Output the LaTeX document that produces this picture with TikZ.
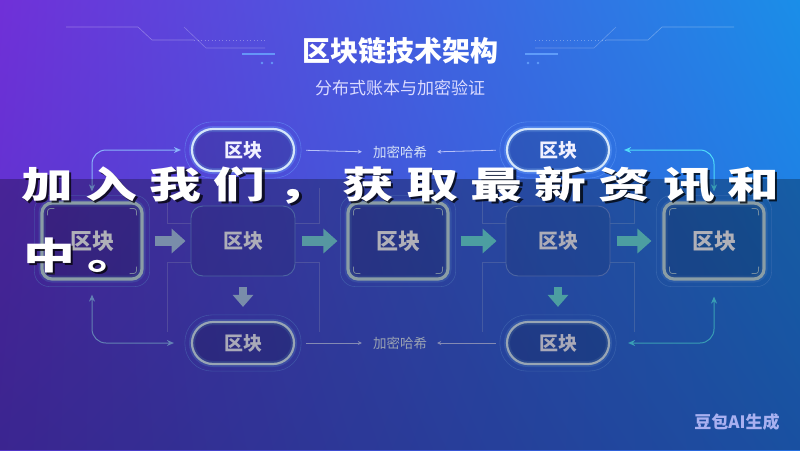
\documentclass[tikz,border=0pt]{standalone}
\usepackage{fontspec}
\newfontfamily\cjk{Noto Sans CJK SC}
\usetikzlibrary{arrows.meta, positioning, calc, shadings}
\definecolor{bgUL}{HTML}{7030D8}
\definecolor{bgUR}{HTML}{1A8EE8}
\definecolor{bgLL}{HTML}{5234C8}
\definecolor{bgLR}{HTML}{2470E0}
\definecolor{pillc}{HTML}{D4E6FA}
\definecolor{glowc}{HTML}{6EA8FF}
\definecolor{hlc}{HTML}{C0DAE6}
\definecolor{plc}{HTML}{6A8CE0}
\definecolor{arrA}{HTML}{A8C4EC}
\definecolor{arrB}{HTML}{78D2E0}
\definecolor{arrC}{HTML}{6ADCE0}
\definecolor{linkL}{HTML}{8AB4FA}
\definecolor{linkR}{HTML}{50DCFA}
\definecolor{hashc}{HTML}{D6E2F8}
\definecolor{decoc}{HTML}{6AA8FF}

\begin{document}
\begin{tikzpicture}[
        x=1pt, y=-1pt,
        pill/.style={draw=pillc, line width=2.2pt, rounded corners=21pt,
            minimum width=102pt, minimum height=42pt,
            fill=black, fill opacity=0.15, text opacity=1, text=white!94!blue,
            font=\cjk\bfseries\fontsize{19}{19}\selectfont,
            preaction={draw=glowc, line width=6pt, draw opacity=0.35}},
        hlbox/.style={draw=hlc, line width=3.2pt, rounded corners=10pt,
            minimum width=100pt, minimum height=76pt,
            fill=black, fill opacity=0.15, text opacity=1, text=white!96!blue,
            font=\cjk\bfseries\fontsize{22}{22}\selectfont,
            preaction={draw=glowc, line width=7pt, draw opacity=0.3}},
        plainbox/.style={draw=plc, line width=0.9pt, rounded corners=12pt,
            minimum width=104pt, minimum height=70pt,
            fill=black, fill opacity=0.08, text opacity=1, text=white!94!blue,
            font=\cjk\bfseries\fontsize{20}{20}\selectfont},
        ring/.style={draw=glowc, line width=0.6pt, opacity=0.45},
        tick/.style={draw=hlc, line width=0.8pt, opacity=0.8},
        frame/.style={draw=white, line width=0.5pt, opacity=0.2},
        fat/.style={line width=10pt, -{Triangle[length=14pt, width=24pt]}},
        fatdown/.style={line width=8pt, -{Triangle[length=12pt, width=20pt]}},
        link/.style={line width=1pt, rounded corners=14pt,
            {Stealth[length=7pt, width=6pt]}-{Stealth[length=7pt, width=6pt]}},
        hash/.style={draw=hashc!85!blue, line width=0.8pt, -{Stealth[length=4pt, width=4pt]}},
        lbl/.style={text=hashc, font=\cjk\fontsize{13.5}{13.5}\selectfont, inner sep=3pt},
        captext/.style={text=white, anchor=base, font=\cjk\bfseries\fontsize{37}{37}\selectfont, inner sep=0pt},
        capshadow/.style={captext, text=black, text opacity=0.75}
    ]
    % background
    \useasboundingbox (0,0) rectangle (800,450);
    \shade[upper left=bgUL, upper right=bgUR, lower left=bgLL, lower right=bgLR]
        (0,0) rectangle (800,450);

    % title decoration, mirrored
    \foreach \s in {1,-1} {
        \begin{scope}[xshift=400pt, xscale=\s]
            \draw[white, opacity=0.3, line width=0.6pt] (-334,27) -- (-262,27) -- (-248,40) -- (-206,40);
            \draw[white, opacity=0.3, line width=0.8pt, dash pattern=on 1pt off 2.5pt] (-206,40) -- (-135,40);
            \draw[white, opacity=0.25, line width=0.6pt] (-216,27) -- (-194,48) -- (-135,48);
            \draw[decoc, opacity=0.8, line width=2.5pt] (-158,54) -- (-125,54);
            \fill[decoc, opacity=0.8] (-138,63) circle (1.4pt) (-128,63) circle (1.4pt);
        \end{scope}
    }

    % titles
    \node[text=white, font=\cjk\bfseries\fontsize{28}{28}\selectfont] (title) at (400,51) {区块链技术架构};
    \node[text=white!86!blue, font=\cjk\fontsize{17}{17}\selectfont] (subtitle) at (400,88) {分布式账本与加密验证};

    % faint frames round the inner columns
    \foreach \cx in {243,558} {
        \draw[frame] (\cx-76,188) |- (\cx-52,223);
        \draw[frame] (\cx-52,262) -| (\cx-76,332);
        \draw[frame] (\cx+76,188) |- (\cx+52,223);
        \draw[frame] (\cx+52,262) -| (\cx+76,332);
    }

    % blocks
    \node[pill] (t1) at (243,150) {区块};
    \node[pill] (t2) at (558,150) {区块};
    \node[hlbox] (m1) at (92,241) {区块};
    \node[plainbox] (m2) at (243,241) {区块};
    \node[hlbox] (m3) at (398,241) {区块};
    \node[plainbox] (m4) at (558,241) {区块};
    \node[hlbox] (m5) at (714,241) {区块};
    \node[pill, text=white!92!blue] (b1) at (243,343) {区块};
    \node[pill, text=white!92!blue] (b2) at (558,343) {区块};
    \node[lbl] (h1) at (400,152) {加密哈希};
    \node[lbl] (h2) at (400,343) {加密哈希};

    % glow rings and corner ticks
    \foreach \n in {t1,t2,b1,b2}
        \draw[ring, rounded corners=27pt] ([shift={(-6,-6)}]\n.north west) rectangle ([shift={(6,6)}]\n.south east);
    \foreach \n in {m1,m3,m5} {
        \draw[ring, rounded corners=15pt] ([shift={(-6,-6)}]\n.north west) rectangle ([shift={(6,6)}]\n.south east);
        \draw[tick] ([shift={(7,14)}]\n.north west) .. controls ([shift={(7,7)}]\n.north west) .. ([shift={(14,7)}]\n.north west);
        \draw[tick] ([shift={(-7,14)}]\n.north east) .. controls ([shift={(-7,7)}]\n.north east) .. ([shift={(-14,7)}]\n.north east);
        \draw[tick] ([shift={(7,-14)}]\n.south west) .. controls ([shift={(7,-7)}]\n.south west) .. ([shift={(14,-7)}]\n.south west);
        \draw[tick] ([shift={(-7,-14)}]\n.south east) .. controls ([shift={(-7,-7)}]\n.south east) .. ([shift={(-14,-7)}]\n.south east);
    }

    % chain arrows
    \draw[fat, arrA, shorten <=11pt, shorten >=5pt] (m1) -- (m2);
    \draw[fat, arrB, shorten <=7pt, shorten >=9pt] (m2) -- (m3);
    \draw[fat, arrC, shorten <=11pt, shorten >=9pt] (m3) -- (m4);
    \draw[fat, arrC, shorten <=7pt, shorten >=11pt] (m4) -- (m5);
    \draw[fatdown, arrA, shorten <=11pt, shorten >=14pt] (m2) -- (b1);
    \draw[fatdown, arrC, shorten <=11pt, shorten >=14pt] (m4) -- (b2);

    % side links
    \draw[link, linkL, shorten <=10pt, shorten >=10pt] (m1.north) |- (t1.west);
    \draw[link, linkL, shorten <=14pt, shorten >=17pt] (m1.south) |- (b1.west);
    \draw[link, linkR, shorten <=10pt, shorten >=14pt] (m5.north) |- (t2.east);
    \draw[link, linkR, shorten <=16pt, shorten >=18pt] (m5.south) |- (b2.east);

    % hash links
    \draw[hash, shorten <=11pt, shorten >=8pt] (t1.east) -- (h1.west);
    \draw[hash, shorten <=10pt, shorten >=7pt] (t2.west) -- (h1.east);
    \draw[hash, shorten <=11pt, shorten >=8pt] (b1.east) -- (h2.west);
    \draw[hash, shorten <=10pt, shorten >=7pt] (b2.west) -- (h2.east);

    % caption band
    \fill[black, opacity=0.28] (0,179) rectangle (800,450);
    \foreach \ch [count=\i from 0] in {加,入,我,们,，,获,取,最,新,资,讯,和} {
        \node[capshadow] at (47+64.2*\i+2.5, 200.5) {\scalebox{1.4}[1]{\ch}};
        \node[captext] (c\i) at (47+64.2*\i, 198) {\scalebox{1.4}[1]{\ch}};
    }
    \node[capshadow] at (51.5,271.5) {\scalebox{1.4}[1]{中}};
    \node[captext] (d0) at (49,269) {\scalebox{1.4}[1]{中}};
    \node[capshadow] at (115.7,271.5) {\scalebox{1.4}[1]{。}};
    \node[captext] (d1) at (113.2,269) {\scalebox{1.4}[1]{。}};

    % watermark
    \node[text=white!76!blue, opacity=0.85, font=\cjk\bfseries\fontsize{17}{17}\selectfont] (mark) at (737,422) {豆包AI生成};
\end{tikzpicture}
\end{document}
